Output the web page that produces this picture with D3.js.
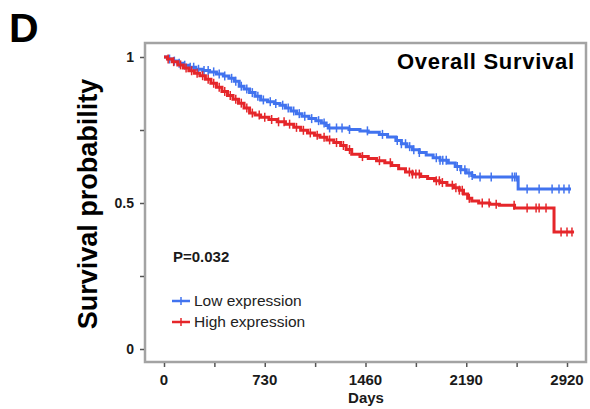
<!DOCTYPE html>
<html>
	<head>
		<meta charset="utf-8"/>
		<script type="text/javascript" src="https://cdn.jsdelivr.net/npm/d3@7/dist/d3.min.js"></script>
		<style>
			body {
				margin:0;
				background:white;
			}
			text {
				font-family:"Liberation Sans", Arial, sans-serif;
				fill:#1a1a1a;
			}
			.bold {
				font-weight:bold;
			}
		</style>
	</head>
	<body>
		<script>
			// Kaplan-Meier steps: [day, survival after that day]
			var low_steps = [[0,1],[30,0.993],[60,0.986],[100,0.979],[140,0.972],[180,0.965],[230,0.958],[280,0.954],[330,0.949],[380,0.942],[430,0.935],[470,0.927],[510,0.917],[545,0.900],[580,0.890],[620,0.878],[660,0.866],[700,0.853],[750,0.847],[800,0.841],[840,0.835],[880,0.825],[920,0.815],[960,0.806],[1000,0.797],[1050,0.789],[1100,0.782],[1140,0.774],[1175,0.765],[1190,0.757],[1340,0.752],[1420,0.747],[1480,0.742],[1560,0.735],[1620,0.726],[1680,0.714],[1720,0.703],[1760,0.693],[1800,0.682],[1850,0.673],[1900,0.664],[1950,0.655],[2000,0.646],[2060,0.637],[2110,0.625],[2150,0.614],[2190,0.603],[2230,0.594],[2250,0.589],[2566,0.548]];
			var high_steps = [[0,1],[25,0.993],[60,0.984],[100,0.973],[140,0.962],[180,0.953],[220,0.944],[260,0.936],[300,0.924],[340,0.910],[380,0.896],[420,0.882],[460,0.868],[500,0.855],[540,0.842],[580,0.825],[620,0.808],[660,0.801],[700,0.794],[760,0.786],[820,0.778],[880,0.770],[940,0.759],[990,0.749],[1040,0.740],[1090,0.732],[1130,0.725],[1180,0.716],[1230,0.707],[1280,0.697],[1320,0.683],[1360,0.667],[1420,0.659],[1480,0.652],[1540,0.645],[1600,0.638],[1650,0.628],[1700,0.617],[1750,0.606],[1800,0.599],[1860,0.591],[1910,0.584],[1960,0.576],[2000,0.570],[2050,0.561],[2100,0.552],[2140,0.544],[2170,0.531],[2200,0.516],[2230,0.507],[2280,0.500],[2360,0.496],[2430,0.492],[2540,0.483],[2826,0.401]];
			var low_end = 2949;
			var high_end = 2971;
			// censored days (+ marks)
			var low_censor = [40,75,110,150,190,215,250,290,320,360,400,440,490,520,560,600,640,680,720,770,810,860,900,940,980,1020,1070,1120,1160,1200,1250,1290,1344,1474,1583,1690,1720,1750,1780,1810,1850,1973,2000,2020,2045,2125,2150,2180,2210,2233,2290,2371,2523,2540,2552,2631,2718,2812,2862,2898,2935];
			var high_censor = [30,70,120,160,200,240,280,320,360,400,440,480,520,560,600,640,690,730,780,830,870,910,960,1010,1060,1110,1160,1200,1250,1300,1344,1438,1561,1640,1778,1800,1825,1850,1973,1995,2017,2089,2115,2140,2161,2212,2306,2356,2407,2537,2631,2696,2718,2768,2877,2920,2956];

			var x_ticks = [0,730,1460,2190,2920];
			var x_minor = [365,1095,1825,2555];
			var y_ticks = [0,0.25,0.5,0.75,1];
			var y_labels = [0,0.5,1];

			var color_low = "#4173ef";
			var color_high = "#e5262a";
			var frame_color = "#a3a3a3";

			var svg = d3.select("body").append("svg")
				.attr("width", 590)
				.attr("height", 409);

			var x = d3.scaleLinear().domain([0, 2920]).range([164, 567]);
			var y = d3.scaleLinear().domain([0, 1]).range([349, 57]);

			// frame
			svg.append("rect")
				.attr("x", 145).attr("y", 43)
				.attr("width", 441).attr("height", 319)
				.attr("fill", "none")
				.attr("stroke", frame_color)
				.attr("stroke-width", 2.5);

			// axes
			var xAxis = svg.append("g").attr("transform", "translate(0,363)")
				.call(d3.axisBottom(x).tickValues(x_ticks.concat(x_minor)).tickSize(4).tickFormat(""));
			xAxis.select(".domain").remove();
			xAxis.selectAll("line").attr("stroke", "#555").attr("stroke-width", 1.5);
			svg.selectAll(".xlab").data(x_ticks).enter().append("text")
				.attr("class", "bold")
				.attr("x", function(d) { return x(d); })
				.attr("y", 385)
				.attr("text-anchor", "middle")
				.attr("font-size", 15)
				.text(function(d) { return d; });

			var yAxis = svg.append("g").attr("transform", "translate(144,0)")
				.call(d3.axisLeft(y).tickValues(y_ticks).tickSize(4).tickFormat(""));
			yAxis.select(".domain").remove();
			yAxis.selectAll("line").attr("stroke", "#555").attr("stroke-width", 1.5);
			svg.selectAll(".ylab").data(y_labels).enter().append("text")
				.attr("class", "bold")
				.attr("x", 134)
				.attr("y", function(d) { return y(d) + 5; })
				.attr("text-anchor", "end")
				.attr("font-size", 14)
				.text(function(d) { return d; });

			function survAt(steps, day) {
				var s = 1;
				steps.forEach(function(p) { if (p[0] <= day) s = p[1]; });
				return s;
			}

			var line = d3.line()
				.x(function(d) { return x(d[0]); })
				.y(function(d) { return y(d[1]); })
				.curve(d3.curveStepAfter);

			function addCurve(steps, end, censor, color) {
				var pts = steps.concat([[end, steps[steps.length - 1][1]]]);
				svg.append("path")
					.attr("d", line(pts))
					.attr("fill", "none")
					.attr("stroke", color)
					.attr("stroke-width", 3);
				svg.append("g").selectAll("line").data(censor).enter().append("line")
					.attr("x1", function(d) { return x(d); })
					.attr("x2", function(d) { return x(d); })
					.attr("y1", function(d) { return y(survAt(steps, d)) - 4.5; })
					.attr("y2", function(d) { return y(survAt(steps, d)) + 4.5; })
					.attr("stroke", color)
					.attr("stroke-width", 1.5);
			}
			addCurve(low_steps, low_end, low_censor, color_low);
			addCurve(high_steps, high_end, high_censor, color_high);

			// texts
			svg.append("text").attr("class", "bold")
				.attr("x", 9).attr("y", 42)
				.attr("font-size", 41)
				.style("fill", "#000")
				.text("D");
			svg.append("text").attr("class", "bold")
				.attr("x", 574).attr("y", 69)
				.attr("text-anchor", "end")
				.attr("font-size", 22)
				.attr("textLength", 177)
				.style("fill", "#000")
				.text("Overall Survival");
			svg.append("text").attr("class", "bold")
				.attr("transform", "translate(97,204) rotate(-90)")
				.attr("text-anchor", "middle")
				.attr("font-size", 27)
				.style("fill", "#000")
				.text("Survival probability");
			svg.append("text").attr("class", "bold")
				.attr("x", 366).attr("y", 403)
				.attr("text-anchor", "middle")
				.attr("font-size", 15)
				.text("Days");
			svg.append("text").attr("class", "bold")
				.attr("x", 173).attr("y", 262)
				.attr("font-size", 15)
				.text("P=0.032");

			// legend
			var legend = [["Low expression", color_low, 301], ["High expression", color_high, 322]];
			legend.forEach(function(l) {
				svg.append("line")
					.attr("x1", 172).attr("x2", 190)
					.attr("y1", l[2]).attr("y2", l[2])
					.attr("stroke", l[1]).attr("stroke-width", 2.5);
				svg.append("line")
					.attr("x1", 181).attr("x2", 181)
					.attr("y1", l[2] - 4).attr("y2", l[2] + 4)
					.attr("stroke", l[1]).attr("stroke-width", 1.5);
				svg.append("text")
					.attr("x", 194).attr("y", l[2] + 5)
					.attr("font-size", 15.5)
					.style("fill", "#222")
					.text(l[0]);
			});
		</script>
	</body>
</html>
